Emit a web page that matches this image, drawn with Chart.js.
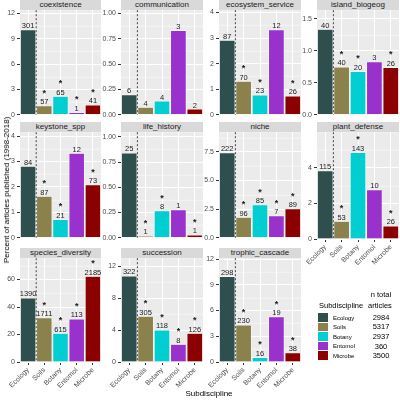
<!DOCTYPE html>
<html>
<head>
<meta charset="utf-8">
<script src="https://cdn.jsdelivr.net/npm/chart.js@4"></script>
<style>
body { margin: 0; width: 400px; height: 400px; position: relative; background: #fff; overflow: hidden;
       font-family: "Liberation Sans", Arial, sans-serif; }
.strip { position: absolute; height: 10px; line-height: 10px; background: #d9d9d9; color: #1a1a1a;
         font-size: 8px; text-align: center; white-space: nowrap; }
canvas { position: absolute; }
.txt { position: absolute; white-space: nowrap; color: #000; }
.key { position: absolute; width: 10px; height: 8.6px; }
</style>
</head>
<body>
<script>
const subdisciplines = ['Ecology', 'Soils', 'Botany', 'Entomol', 'Microbe'];
const totals = [2984, 5317, 2937, 360, 3500];
const colors = ['#2f4f4f', '#8b814c', '#00ced1', '#9932cc', '#8b0000'];

// percent of articles published, in subdiscipline order
const coexistence = [10.09, 1.07, 2.21, 0.28, 1.17];
const communication = [0.20, 0.075, 0.136, 0.833, 0.057];
const ecosystemService = [2.92, 1.32, 0.78, 3.33, 0.74];
const islandBiogeog = [1.34, 0.75, 0.68, 0.83, 0.74];
const keystoneSpp = [2.82, 1.64, 0.72, 3.33, 2.09];
const lifeHistory = [0.84, 0.019, 0.27, 0.28, 0.029];
const niche = [7.44, 1.81, 2.89, 1.94, 2.54];
const plantDefense = [3.85, 1.00, 4.87, 2.78, 0.74];
const speciesDiversity = [46.58, 32.18, 20.94, 31.39, 62.43];
const succession = [10.79, 5.74, 4.02, 2.22, 3.60];
const trophicCascade = [9.99, 4.33, 0.54, 5.28, 1.09];

// article counts printed above the bars
const coexistenceN = [301, 57, 65, 1, 41];
const communicationN = [6, 4, 4, 3, 2];
const ecosystemServiceN = [87, 70, 23, 12, 26];
const islandBiogeogN = [40, 40, 20, 3, 26];
const keystoneSppN = [84, 87, 21, 12, 73];
const lifeHistoryN = [25, 1, 8, 1, 1];
const nicheN = [222, 96, 85, 7, 89];
const plantDefenseN = [115, 53, 143, 10, 26];
const speciesDiversityN = [1390, 1711, 615, 113, 2185];
const successionN = [322, 305, 118, 8, 126];
const trophicCascadeN = [298, 230, 16, 19, 38];

// significance stars
const allStar = [0, 1, 1, 1, 1];
const noStar = [0, 0, 0, 0, 0];
const threeStar = [0, 1, 1, 0, 1];

// y tick labels
const coexistenceTicks = [0, 3, 6, 9, 12];
const fractionTicks = [0, 0.25, 0.5, 0.75, 1];
const unitTicks = [0, 1, 2, 3, 4];
const islandTicks = [0, 0.5, 1, 1.5];
const nicheTicks = [0, 2.5, 5, 7.5];
const plantTicks = [0, 2, 4];
const diversityTicks = [0, 20, 40, 60];
const successionTicks = [0, 4, 8, 12];

// panel layout (pixels)
const colX = [[20, 101], [121, 203], [219, 301], [317, 399]];
const rowY = [[0, 10, 116], [122, 132, 239], [248, 258, 362]];
const YW = 32;

const panels = [
  { name: 'coexistence', pct: coexistence, n: coexistenceN, star: allStar, ticks: coexistenceTicks, max: 12.38, dp: 0, col: 0, row: 0 },
  { name: 'communication', pct: communication, n: communicationN, star: noStar, ticks: fractionTicks, max: 1.032, dp: 2, col: 1, row: 0 },
  { name: 'ecosystem_service', pct: ecosystemService, n: ecosystemServiceN, star: threeStar, ticks: unitTicks, max: 4.09, dp: 0, col: 2, row: 0 },
  { name: 'island_biogeog', pct: islandBiogeog, n: islandBiogeogN, star: threeStar, ticks: islandTicks, max: 1.636, dp: 1, col: 3, row: 0 },
  { name: 'keystone_spp', pct: keystoneSpp, n: keystoneSppN, star: threeStar, ticks: unitTicks, max: 4.15, dp: 0, col: 0, row: 1 },
  { name: 'life_history', pct: lifeHistory, n: lifeHistoryN, star: threeStar, ticks: fractionTicks, max: 1.046, dp: 2, col: 1, row: 1 },
  { name: 'niche', pct: niche, n: nicheN, star: allStar, ticks: nicheTicks, max: 9.22, dp: 1, col: 2, row: 1 },
  { name: 'plant_defense', pct: plantDefense, n: plantDefenseN, star: threeStar, ticks: plantTicks, max: 6.01, dp: 0, col: 3, row: 1, axis: true },
  { name: 'species_diversity', pct: speciesDiversity, n: speciesDiversityN, star: allStar, ticks: diversityTicks, max: 75.5, dp: 0, col: 0, row: 2, axis: true },
  { name: 'succession', pct: succession, n: successionN, star: allStar, ticks: successionTicks, max: 13.0, dp: 0, col: 1, row: 2, axis: true },
  { name: 'trophic_cascade', pct: trophicCascade, n: trophicCascadeN, star: allStar, ticks: coexistenceTicks, max: 12.1, dp: 0, col: 2, row: 2, axis: true },
];

Chart.defaults.font.family = '"Liberation Sans", Arial, sans-serif';

function addText(str, x, y, size, align, extra) {
  const d = document.createElement('div');
  d.className = 'txt';
  d.textContent = str;
  d.style.fontSize = size + 'px';
  d.style.lineHeight = size + 'px';
  d.style.top = (y - size / 2) + 'px';
  if (align === 'center') { d.style.left = x + 'px'; d.style.transform = 'translateX(-50%)'; }
  else d.style.left = x + 'px';
  if (extra) Object.assign(d.style, extra);
  document.body.appendChild(d);
  return d;
}

function panelPlugin(p) {
  return {
    id: 'panel',
    beforeDraw(chart) {
      const { ctx, chartArea: a } = chart;
      ctx.save();
      ctx.fillStyle = '#ebebeb';
      ctx.fillRect(a.left, a.top, a.right - a.left, a.bottom - a.top);
      ctx.restore();
    },
    beforeDatasetsDraw(chart) {
      // minor grid lines half way between the major ones
      const { ctx, chartArea: a, scales } = chart;
      const t = p.ticks;
      const step = t[1] - t[0];
      ctx.save();
      ctx.strokeStyle = '#fff';
      ctx.lineWidth = 0.5;
      for (let k = 0; k < t.length; k++) {
        const v = t[k] + step / 2;
        if (v > p.max) break;
        const y = Math.round(scales.y.getPixelForValue(v)) + 0.25;
        ctx.beginPath();
        ctx.moveTo(a.left, y);
        ctx.lineTo(a.right, y);
        ctx.stroke();
      }
      ctx.restore();
    },
    afterDatasetsDraw(chart) {
      const { ctx, chartArea: a, scales } = chart;
      ctx.save();
      // dashed divider between Ecology and the rest
      const xd = (scales.x.getPixelForValue(0) + scales.x.getPixelForValue(1)) / 2;
      ctx.strokeStyle = '#333';
      ctx.lineWidth = 0.9;
      ctx.setLineDash([2, 2]);
      ctx.beginPath();
      ctx.moveTo(xd, a.top);
      ctx.lineTo(xd, a.bottom);
      ctx.stroke();
      ctx.setLineDash([]);
      // counts and stars
      ctx.textAlign = 'center';
      ctx.textBaseline = 'alphabetic';
      ctx.fillStyle = '#1a1a1a';
      chart.getDatasetMeta(0).data.forEach((bar, i) => {
        ctx.font = '7.5px "Liberation Sans", Arial, sans-serif';
        ctx.fillText(String(p.n[i]), bar.x, bar.y - 1.5);
        if (p.star[i]) {
          ctx.font = 'bold 9px "Liberation Sans", Arial, sans-serif';
          ctx.fillText('*', bar.x, bar.y - 10);
        }
      });
      ctx.restore();
    }
  };
}

panels.forEach(p => {
  const [x0, x1] = colX[p.col];
  const [s0, y0, y1] = rowY[p.row];

  const strip = document.createElement('div');
  strip.className = 'strip';
  strip.style.left = x0 + 'px';
  strip.style.top = s0 + 'px';
  strip.style.width = (x1 - x0) + 'px';
  strip.textContent = p.name;
  document.body.appendChild(strip);

  const axisH = p.axis ? 32 : 0;
  const padTop = 6;
  const padBottom = p.axis ? 0 : 5;
  const cv = document.createElement('canvas');
  cv.width = x1 - x0 + YW;
  cv.height = y1 - y0 + padTop + padBottom + axisH;
  cv.style.left = (x0 - YW) + 'px';
  cv.style.top = (y0 - padTop) + 'px';
  document.body.appendChild(cv);

  new Chart(cv, {
    type: 'bar',
    data: {
      labels: subdisciplines,
      datasets: [{
        data: p.pct,
        backgroundColor: colors,
        borderColor: '#ffffff',
        borderWidth: 0.6,
        barPercentage: 0.97,
        categoryPercentage: 1,
      }]
    },
    options: {
      responsive: false,
      animation: false,
      layout: { padding: { top: padTop, bottom: padBottom, left: 0, right: 0 } },
      plugins: { legend: { display: false }, tooltip: { enabled: false } },
      scales: {
        x: {
          afterFit: s => { s.height = axisH; },
          border: { display: false },
          grid: { color: '#ffffff', lineWidth: 1, offset: false, drawTicks: !!p.axis, tickColor: '#333', tickLength: 3 },
          ticks: { display: !!p.axis, autoSkip: false, maxRotation: 45, minRotation: 45, color: '#4d4d4d', font: { size: 7 }, padding: 1 }
        },
        y: {
          min: 0,
          max: p.max,
          afterBuildTicks: s => { s.ticks = p.ticks.map(v => ({ value: v })); },
          afterFit: s => { s.width = YW; },
          border: { display: false },
          grid: { color: '#ffffff', lineWidth: 1, tickColor: '#333', tickLength: 3 },
          ticks: { color: '#4d4d4d', font: { size: 7 }, padding: 2, callback: v => Number(v).toFixed(p.dp) }
        }
      }
    },
    plugins: [panelPlugin(p)]
  });
});

// axis titles
addText('Subdiscipline', 209, 394, 8, 'center');
addText('Percent of articles published (1998-2018)', 7, 190, 8, 'center',
  { transform: 'translate(-50%, 0) rotate(-90deg)' });

// legend
addText('n total', 381, 295, 7.5, 'center');
addText('Subdiscipline', 319, 305.5, 7.5, 'left');
addText('articles', 380, 305.5, 7.5, 'center');
subdisciplines.forEach((s, i) => {
  const k = document.createElement('div');
  k.className = 'key';
  k.style.left = '318px';
  k.style.top = (313 + i * 9.6) + 'px';
  k.style.background = colors[i];
  document.body.appendChild(k);
  addText(s, 333, 317.5 + i * 9.6, 6, 'left');
  addText(String(totals[i]), 381, 317.5 + i * 9.6, 7.5, 'center');
});
</script>
</body>
</html>
